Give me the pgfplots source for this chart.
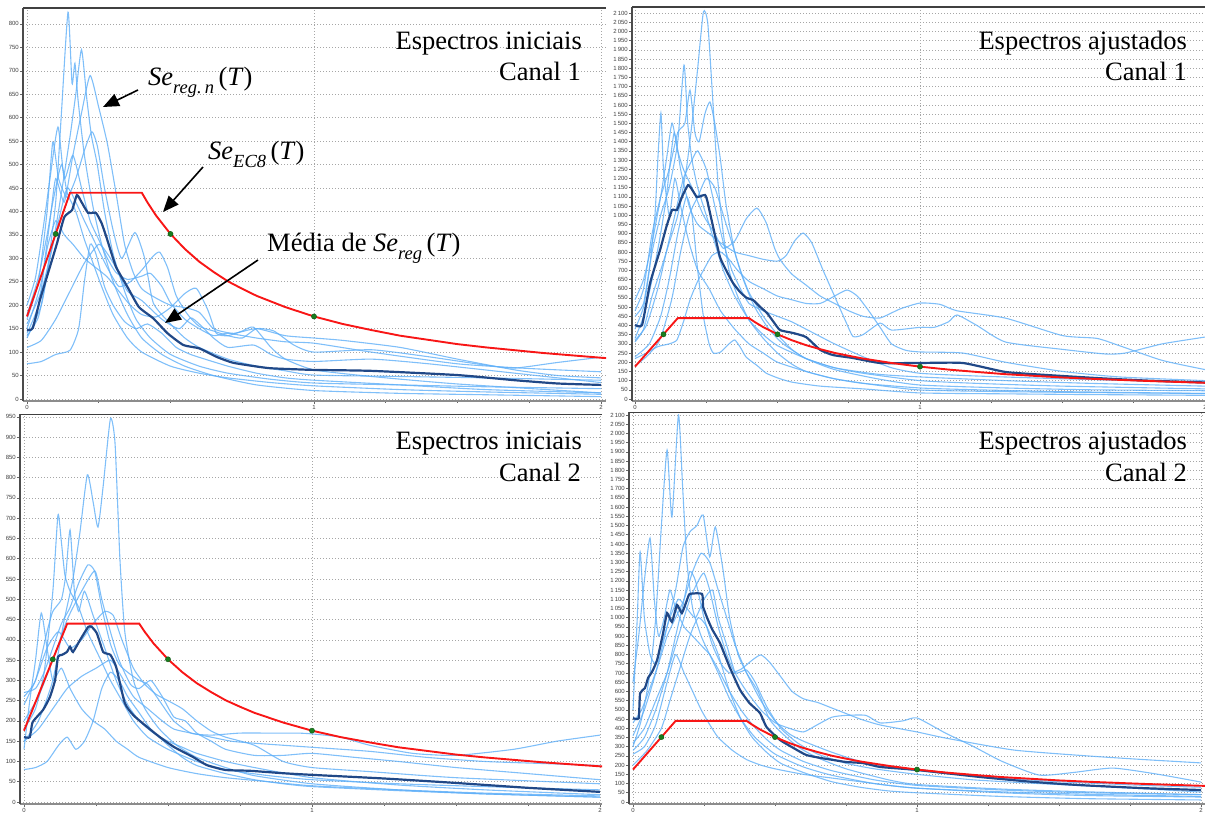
\documentclass[border=0pt]{standalone}
\usepackage{pgfplots}
\pgfplotsset{compat=1.18}
\usepackage{fontspec}
\setmainfont{Liberation Serif}
\newfontfamily\tickfont{Liberation Sans}
\usetikzlibrary{arrows.meta}

\definecolor{lbc}{RGB}{95,175,248}
\definecolor{meanc}{RGB}{32,72,135}
\definecolor{ecred}{RGB}{248,22,22}
\definecolor{dotg}{RGB}{25,125,30}

\pgfplotsset{
    panel/.style={
        scale only axis,
        axis x line*=bottom,
        axis y line*=left,
        x axis line style={black!45, line width=2.4pt},
        y axis line style={black!70, line width=1.8pt},
        xtick={0,1,2},
        minor x tick num=3,
        ytick distance=50,
        scaled y ticks=false,
        ymajorgrids, xmajorgrids,
        grid style={black!35, dash pattern=on 1pt off 2pt, line width=0.6pt},
        tick style={black!60, line width=0.6pt},
        major tick length=3pt, minor tick length=2pt,
        tick align=outside,
        tick label style={font=\tickfont\fontsize{6}{6}\selectfont, text=black!75},
        yticklabel style={inner sep=1pt},
        xticklabel style={inner sep=1.5pt},
        /pgf/number format/1000 sep={\,},
        /pgf/number format/assume math mode=true,
    },
    lb/.style={color=lbc, line width=1.1pt, opacity=0.8, smooth, tension=0.35},
    meanline/.style={color=meanc, line width=2.2pt, smooth, tension=0.3},
    ec8/.style={color=ecred, line width=1.9pt},
    gdots/.style={only marks, mark=*, mark size=2.6pt, mark options={fill=dotg, draw=dotg!70!black}},
}

\newcommand{\ECeight}{%
  \addplot[ec8] coordinates {(0,176)(0.15,440)(0.4,440)(0.42,419)(0.45,391)(0.5,352)(0.55,320)(0.6,293)(0.65,271)(0.7,251)(0.75,235)(0.8,220)(0.9,196)(1.0,176)(1.1,160)(1.2,147)(1.3,135)(1.4,126)(1.5,117)(1.6,110)(1.7,104)(1.8,98)(1.9,93)(2.0,88)(2.05,86)};
  \addplot[gdots] coordinates {(0.1,352)(0.5,352)(1.0,176)};
}

\begin{document}
\begin{tikzpicture}[x=1pt,y=1pt]
\useasboundingbox (0,0) rectangle (1205,812);

% ---------------- top left: initial spectra, channel 1
\begin{axis}[panel, at={(23pt,411pt)}, anchor=south west, width=583pt, height=393pt,
    xmin=-0.0139, xmax=2.0174, ymin=-4.3, ymax=834]
\addplot[lb] coordinates {(0,135)(0.04,175)(0.07,270)(0.1,420)(0.12,610)(0.143,825)(0.157,673)(0.167,716)(0.178,637)(0.2,520)(0.23,410)(0.26,330)(0.3,250)(0.35,180)(0.4,130)(0.47,95)(0.55,70)(0.65,50)(0.8,30)(1.0,18)(1.3,12)(1.6,9)(2.0,5)};
\addplot[lb] coordinates {(0,160)(0.05,230)(0.09,330)(0.12,440)(0.15,560)(0.17,650)(0.19,745)(0.209,637)(0.225,560)(0.245,500)(0.27,400)(0.3,310)(0.34,230)(0.38,170)(0.43,130)(0.5,95)(0.6,70)(0.7,55)(0.85,42)(1.0,34)(1.3,30)(1.6,26)(2.0,22)};
\addplot[lb] coordinates {(0,150)(0.05,250)(0.08,380)(0.1,470)(0.13,420)(0.16,520)(0.19,610)(0.22,690)(0.25,622)(0.28,545)(0.31,440)(0.34,330)(0.37,270)(0.4,235)(0.45,215)(0.5,200)(0.55,195)(0.6,185)(0.65,150)(0.72,140)(0.8,150)(0.9,135)(1.0,130)(1.1,125)(1.3,110)(1.5,85)(1.7,62)(1.85,50)(2.0,45)};
\addplot[lb] coordinates {(0,170)(0.04,250)(0.07,400)(0.09,548)(0.11,470)(0.14,430)(0.17,470)(0.2,530)(0.226,570)(0.245,540)(0.27,450)(0.3,360)(0.33,300)(0.376,355)(0.41,300)(0.44,205)(0.5,160)(0.55,130)(0.6,110)(0.7,85)(0.8,70)(0.9,60)(1.0,51)(1.3,48)(1.6,45)(2.0,40)};
\addplot[lb] coordinates {(0,200)(0.03,260)(0.06,380)(0.08,470)(0.108,580)(0.13,470)(0.16,520)(0.19,450)(0.22,380)(0.25,340)(0.28,300)(0.31,270)(0.35,255)(0.4,262)(0.43,268)(0.47,240)(0.5,205)(0.55,170)(0.6,150)(0.65,135)(0.7,140)(0.8,130)(0.9,122)(1.0,119)(1.2,100)(1.5,75)(1.75,65)(2.0,58)};
\addplot[lb] coordinates {(0,130)(0.05,200)(0.08,300)(0.11,380)(0.14,450)(0.17,420)(0.2,380)(0.24,330)(0.28,280)(0.32,240)(0.36,250)(0.4,275)(0.44,305)(0.463,313)(0.49,280)(0.52,220)(0.56,180)(0.6,155)(0.65,145)(0.7,135)(0.75,130)(0.8,150)(0.86,145)(0.93,115)(1.0,100)(1.2,105)(1.4,90)(1.6,72)(1.7,66)(1.85,78)(2.0,89)};
\addplot[lb] coordinates {(0,75)(0.05,80)(0.1,95)(0.15,104)(0.18,150)(0.2,250)(0.22,330)(0.24,310)(0.27,240)(0.3,200)(0.34,165)(0.38,150)(0.42,160)(0.47,140)(0.52,110)(0.57,95)(0.62,85)(0.7,70)(0.8,55)(0.9,45)(1.0,40)(1.3,30)(1.6,20)(2.0,13)};
\addplot[lb] coordinates {(0,110)(0.05,125)(0.1,170)(0.15,230)(0.2,290)(0.25,330)(0.28,310)(0.31,280)(0.35,230)(0.4,210)(0.47,170)(0.53,150)(0.57,173)(0.6,160)(0.65,130)(0.7,110)(0.79,115)(0.85,95)(0.9,85)(1.0,80)(1.2,85)(1.4,75)(1.7,55)(2.0,35)};
\addplot[lb] coordinates {(0,140)(0.04,200)(0.07,320)(0.1,380)(0.13,350)(0.16,330)(0.2,300)(0.24,280)(0.28,260)(0.32,230)(0.36,200)(0.4,180)(0.45,175)(0.5,195)(0.55,225)(0.59,236)(0.63,190)(0.66,140)(0.7,135)(0.75,145)(0.79,153)(0.85,110)(0.9,85)(1.0,62)(1.2,48)(1.5,32)(2.0,13)};
\addplot[lb] coordinates {(0,180)(0.04,260)(0.07,350)(0.09,420)(0.12,500)(0.14,440)(0.17,400)(0.2,340)(0.23,290)(0.26,240)(0.3,180)(0.35,130)(0.4,100)(0.5,70)(0.6,55)(0.7,45)(0.85,35)(1.0,28)(1.3,20)(1.6,15)(2.0,10)};
\addplot[meanline] coordinates {(0,147)(0.02,151)(0.045,211)(0.08,282)(0.105,333)(0.13,388)(0.157,403)(0.174,435)(0.19,420)(0.213,397)(0.24,397)(0.26,375)(0.28,339)(0.31,282)(0.35,239)(0.39,196)(0.44,172)(0.49,140)(0.545,115)(0.6,108)(0.66,90)(0.72,77)(0.84,66)(0.95,63)(1.0,62)(1.2,60)(1.5,51)(1.7,40)(1.85,33)(2.0,30)};
\ECeight
\draw[black!75, line width=1.2pt] (rel axis cs:0,1) -- (rel axis cs:1,1);
\end{axis}

% ---------------- top right: adjusted spectra, channel 1
\begin{axis}[panel, at={(632pt,411pt)}, anchor=south west, width=573pt, height=394pt,
    xmin=-0.0105, xmax=2.0, ymin=-10.9, ymax=2133]
\addplot[lb] coordinates {(0,310)(0.03,380)(0.06,560)(0.09,700)(0.12,850)(0.15,1000)(0.18,1250)(0.2,1500)(0.22,1800)(0.24,2106)(0.255,2050)(0.27,1700)(0.29,1200)(0.31,900)(0.33,700)(0.36,560)(0.4,430)(0.45,330)(0.5,250)(0.55,190)(0.6,150)(0.7,110)(0.8,85)(1.0,60)(1.2,50)(1.5,40)(2.0,30)};
\addplot[lb] coordinates {(0,450)(0.03,520)(0.06,800)(0.09,1000)(0.12,1150)(0.15,1400)(0.172,1817)(0.185,1500)(0.2,1300)(0.22,1150)(0.25,1000)(0.28,850)(0.31,700)(0.35,560)(0.4,430)(0.45,350)(0.5,290)(0.6,220)(0.7,170)(0.85,135)(1.0,120)(1.3,100)(1.6,85)(2.0,70)};
\addplot[lb] coordinates {(0,480)(0.03,600)(0.06,900)(0.09,1100)(0.12,1250)(0.15,1450)(0.175,1500)(0.193,1681)(0.21,1450)(0.225,1400)(0.245,1550)(0.263,1616)(0.28,1500)(0.3,1300)(0.32,1050)(0.35,800)(0.38,650)(0.42,500)(0.47,380)(0.52,300)(0.6,220)(0.7,160)(0.85,110)(1.0,76)(1.3,60)(1.6,50)(2.0,45)};
\addplot[lb] coordinates {(0,380)(0.03,500)(0.05,700)(0.07,1000)(0.08,1300)(0.091,1556)(0.1,1250)(0.12,1000)(0.14,1200)(0.16,1050)(0.19,850)(0.22,700)(0.26,600)(0.3,480)(0.35,380)(0.4,300)(0.45,250)(0.5,200)(0.6,150)(0.7,110)(0.85,75)(1.0,49)(1.3,40)(1.6,35)(2.0,30)};
\addplot[lb] coordinates {(0,540)(0.03,650)(0.06,850)(0.09,1100)(0.11,1300)(0.13,1501)(0.15,1350)(0.17,1250)(0.2,1150)(0.24,1000)(0.28,900)(0.31,820)(0.35,860)(0.39,980)(0.428,1039)(0.46,960)(0.49,820)(0.51,756)(0.55,680)(0.6,620)(0.65,560)(0.7,520)(0.75,480)(0.8,450)(0.86,441)(0.93,490)(1.0,522)(1.07,515)(1.13,480)(1.3,440)(1.5,345)(1.62,330)(1.7,290)(1.85,210)(2.0,160)};
\addplot[lb] coordinates {(0,330)(0.03,450)(0.06,650)(0.09,900)(0.11,1100)(0.137,1447)(0.16,1250)(0.19,1050)(0.22,950)(0.26,900)(0.3,850)(0.35,800)(0.4,780)(0.45,760)(0.5,750)(0.53,780)(0.56,860)(0.59,903)(0.62,850)(0.66,700)(0.7,560)(0.74,420)(0.765,340)(0.8,350)(0.86,413)(0.9,375)(1.0,390)(1.05,390)(1.1,420)(1.13,457)(1.2,400)(1.3,310)(1.5,270)(1.65,245)(1.72,250)(1.85,300)(2.0,337)};
\addplot[lb] coordinates {(0,220)(0.04,250)(0.08,285)(0.12,300)(0.147,321)(0.17,420)(0.193,539)(0.217,631)(0.24,700)(0.27,780)(0.3,800)(0.33,760)(0.36,700)(0.4,640)(0.45,600)(0.5,560)(0.55,540)(0.6,520)(0.65,520)(0.7,560)(0.744,593)(0.78,560)(0.82,480)(0.86,390)(0.9,300)(0.95,265)(1.0,256)(1.15,250)(1.3,200)(1.5,150)(1.7,120)(2.0,100)};
\addplot[lb] coordinates {(0,230)(0.05,300)(0.09,450)(0.12,650)(0.15,900)(0.18,1100)(0.2,1000)(0.22,700)(0.24,450)(0.26,300)(0.275,250)(0.3,255)(0.33,300)(0.35,321)(0.37,280)(0.39,228)(0.43,180)(0.46,141)(0.5,115)(0.55,92)(0.65,70)(0.8,55)(1.0,33)(1.3,28)(1.6,24)(2.0,20)};
\addplot[lb] coordinates {(0,320)(0.04,400)(0.08,600)(0.11,800)(0.14,1000)(0.17,1200)(0.2,1300)(0.22,1350)(0.25,1250)(0.28,1050)(0.31,850)(0.34,700)(0.37,600)(0.4,520)(0.45,480)(0.5,450)(0.55,420)(0.6,380)(0.65,340)(0.7,300)(0.8,230)(0.9,170)(1.0,140)(1.2,125)(1.5,110)(2.0,90)};
\addplot[lb] coordinates {(0,180)(0.04,230)(0.08,300)(0.1,380)(0.13,550)(0.16,800)(0.19,1000)(0.22,1100)(0.25,1200)(0.28,1150)(0.31,1000)(0.34,850)(0.37,700)(0.4,580)(0.45,450)(0.5,350)(0.55,270)(0.6,220)(0.7,170)(0.8,140)(1.0,100)(1.2,85)(1.5,70)(2.0,55)};
\addplot[meanline] coordinates {(0,403)(0.025,403)(0.053,631)(0.088,811)(0.11,936)(0.13,1028)(0.147,1028)(0.165,1100)(0.186,1164)(0.2,1140)(0.217,1099)(0.232,1105)(0.246,1110)(0.253,1083)(0.275,930)(0.298,773)(0.32,700)(0.344,631)(0.37,580)(0.393,549)(0.414,539)(0.44,500)(0.463,468)(0.486,420)(0.509,375)(0.555,359)(0.6,337)(0.65,267)(0.695,239)(0.765,223)(0.86,196)(1.0,196)(1.15,196)(1.3,147)(1.45,130)(1.62,114)(1.8,100)(2.0,90)};
\ECeight
\draw[black!75, line width=1.2pt] (rel axis cs:0,1) -- (rel axis cs:1,1);
\end{axis}

% ---------------- bottom left: initial spectra, channel 2
\begin{axis}[panel, at={(20pt,8pt)}, anchor=south west, width=582pt, height=390pt,
    xmin=-0.0139, xmax=2.007, ymin=-4.9, ymax=957]
\addplot[lb] coordinates {(0,150)(0.05,200)(0.1,300)(0.14,450)(0.17,550)(0.194,664)(0.22,807)(0.24,740)(0.257,678)(0.275,780)(0.3,945)(0.316,886)(0.333,600)(0.35,420)(0.38,300)(0.42,230)(0.47,180)(0.53,140)(0.6,110)(0.7,85)(0.8,65)(1.0,45)(1.3,30)(1.6,20)(2.0,12)};
\addplot[lb] coordinates {(0,180)(0.04,230)(0.07,320)(0.1,518)(0.118,708)(0.13,640)(0.142,560)(0.16,520)(0.19,480)(0.22,420)(0.26,360)(0.3,300)(0.34,250)(0.38,200)(0.43,160)(0.5,130)(0.6,100)(0.7,80)(0.85,65)(1.0,55)(1.3,45)(1.6,38)(2.0,30)};
\addplot[lb] coordinates {(0,260)(0.04,300)(0.08,420)(0.1,470)(0.13,500)(0.145,560)(0.16,671)(0.175,520)(0.19,470)(0.21,520)(0.24,460)(0.28,380)(0.32,300)(0.36,240)(0.4,200)(0.45,170)(0.5,150)(0.55,135)(0.6,120)(0.7,100)(0.8,85)(1.0,60)(1.3,42)(1.6,30)(2.0,18)};
\addplot[lb] coordinates {(0,270)(0.04,280)(0.07,320)(0.1,380)(0.13,440)(0.16,480)(0.19,540)(0.222,585)(0.246,568)(0.27,480)(0.3,390)(0.33,340)(0.36,320)(0.4,300)(0.43,290)(0.47,250)(0.52,200)(0.58,170)(0.65,165)(0.75,170)(0.85,170)(0.95,170)(1.0,168)(1.1,160)(1.2,140)(1.35,120)(1.5,115)(1.7,130)(1.85,150)(2.0,165)};
\addplot[lb] coordinates {(0,200)(0.05,260)(0.1,350)(0.15,450)(0.2,520)(0.246,570)(0.27,500)(0.3,420)(0.33,350)(0.37,290)(0.4,280)(0.44,300)(0.48,260)(0.52,210)(0.56,200)(0.6,170)(0.65,150)(0.7,130)(0.8,115)(0.9,115)(1.0,120)(1.15,110)(1.3,100)(1.5,85)(1.75,70)(2.0,55)};
\addplot[lb] coordinates {(0,80)(0.04,85)(0.08,100)(0.12,140)(0.15,160)(0.18,130)(0.21,150)(0.24,200)(0.27,280)(0.3,320)(0.33,300)(0.36,260)(0.4,220)(0.44,180)(0.5,140)(0.55,110)(0.6,90)(0.7,70)(0.8,55)(0.9,45)(1.0,38)(1.3,28)(1.6,20)(2.0,12)};
\addplot[lb] coordinates {(0,130)(0.02,250)(0.04,350)(0.06,466)(0.08,380)(0.1,300)(0.13,330)(0.16,280)(0.2,230)(0.24,200)(0.28,180)(0.32,150)(0.36,130)(0.4,110)(0.5,85)(0.6,70)(0.7,60)(0.85,50)(1.0,40)(1.3,30)(1.6,22)(2.0,15)};
\addplot[lb] coordinates {(0,150)(0.05,180)(0.1,230)(0.15,280)(0.2,310)(0.25,330)(0.3,350)(0.33,320)(0.38,260)(0.43,230)(0.48,200)(0.52,180)(0.58,170)(0.65,160)(0.72,150)(0.8,145)(0.9,140)(1.0,135)(1.2,125)(1.4,110)(1.6,100)(1.8,95)(2.0,90)};
\addplot[lb] coordinates {(0,240)(0.04,300)(0.08,380)(0.12,420)(0.16,380)(0.2,400)(0.24,440)(0.28,470)(0.31,460)(0.34,400)(0.38,330)(0.42,290)(0.46,265)(0.5,250)(0.55,230)(0.6,200)(0.65,175)(0.7,160)(0.8,140)(0.9,100)(1.0,85)(1.2,75)(1.5,60)(2.0,45)};
\addplot[meanline] coordinates {(0,160)(0.02,160)(0.03,197)(0.066,227)(0.09,259)(0.108,301)(0.118,358)(0.132,363)(0.149,370)(0.16,383)(0.17,370)(0.195,400)(0.223,432)(0.235,432)(0.253,416)(0.275,370)(0.3,363)(0.32,333)(0.35,244)(0.38,214)(0.426,186)(0.47,161)(0.52,136)(0.587,111)(0.635,91)(0.7,79)(0.785,77)(0.9,71)(1.0,67)(1.25,58)(1.5,47)(1.75,35)(2.0,25)};
\ECeight
\draw[black!75, line width=1.2pt] (rel axis cs:0,1) -- (rel axis cs:1,1);
\end{axis}

% ---------------- bottom right: adjusted spectra, channel 2
\begin{axis}[panel, at={(629pt,8pt)}, anchor=south west, width=576pt, height=392pt,
    xmin=-0.0141, xmax=2.014, ymin=-10.9, ymax=2116]
\addplot[lb] coordinates {(0,300)(0.03,450)(0.06,700)(0.08,1000)(0.1,1500)(0.12,1910)(0.137,1546)(0.16,2100)(0.175,1700)(0.19,1300)(0.21,1050)(0.24,900)(0.27,800)(0.3,700)(0.34,560)(0.38,450)(0.43,350)(0.5,260)(0.6,190)(0.7,145)(0.85,100)(1.0,75)(1.3,55)(1.6,42)(2.0,30)};
\addplot[lb] coordinates {(0,360)(0.04,500)(0.08,700)(0.12,950)(0.15,1150)(0.176,1384)(0.2,1465)(0.225,1500)(0.247,1557)(0.27,1330)(0.29,1492)(0.317,1259)(0.34,1000)(0.37,800)(0.4,700)(0.44,600)(0.48,450)(0.52,380)(0.58,300)(0.65,240)(0.75,180)(0.9,120)(1.0,95)(1.3,70)(1.6,55)(2.0,40)};
\addplot[lb] coordinates {(0,650)(0.02,900)(0.04,1200)(0.06,1432)(0.075,1100)(0.09,900)(0.11,1000)(0.13,1150)(0.15,1050)(0.18,950)(0.21,900)(0.24,850)(0.27,800)(0.3,720)(0.34,600)(0.38,500)(0.42,420)(0.47,340)(0.52,280)(0.6,220)(0.7,170)(0.85,120)(1.0,90)(1.3,65)(1.6,50)(2.0,40)};
\addplot[lb] coordinates {(0,500)(0.015,1000)(0.025,1357)(0.04,1000)(0.06,800)(0.08,750)(0.1,850)(0.13,1000)(0.16,1100)(0.19,1050)(0.22,1000)(0.25,1100)(0.28,1150)(0.3,1000)(0.33,850)(0.36,700)(0.4,600)(0.45,500)(0.5,430)(0.55,400)(0.6,380)(0.65,420)(0.7,460)(0.75,470)(0.82,470)(0.87,429)(0.95,440)(1.0,456)(1.1,374)(1.2,300)(1.3,220)(1.43,146)(1.55,160)(1.69,184)(1.85,150)(2.0,108)};
\addplot[lb] coordinates {(0,280)(0.04,350)(0.08,500)(0.12,700)(0.15,900)(0.18,1100)(0.2,1250)(0.22,1200)(0.25,1000)(0.28,850)(0.31,750)(0.34,700)(0.38,720)(0.42,770)(0.45,798)(0.48,760)(0.52,680)(0.56,600)(0.6,560)(0.65,540)(0.7,510)(0.75,480)(0.8,450)(0.87,418)(1.0,380)(1.1,347)(1.34,282)(1.6,250)(1.8,230)(2.0,212)};
\addplot[lb] coordinates {(0,320)(0.04,400)(0.08,550)(0.12,700)(0.16,900)(0.2,1100)(0.23,1200)(0.25,1242)(0.27,1150)(0.3,950)(0.33,800)(0.36,700)(0.4,716)(0.43,650)(0.47,520)(0.52,400)(0.58,320)(0.65,260)(0.75,210)(0.85,180)(1.0,150)(1.2,120)(1.43,100)(1.7,80)(2.0,54)};
\addplot[lb] coordinates {(0,260)(0.04,300)(0.08,420)(0.12,650)(0.15,800)(0.18,700)(0.21,600)(0.24,500)(0.27,420)(0.3,350)(0.35,280)(0.4,230)(0.45,200)(0.5,180)(0.6,150)(0.7,130)(0.8,110)(0.9,90)(1.0,75)(1.3,50)(1.6,35)(2.0,27)};
\addplot[lb] coordinates {(0,430)(0.03,500)(0.06,620)(0.09,750)(0.12,900)(0.15,1000)(0.18,1100)(0.21,1250)(0.24,1350)(0.27,1300)(0.3,1150)(0.33,1000)(0.36,850)(0.4,700)(0.45,550)(0.5,440)(0.55,370)(0.6,330)(0.7,270)(0.8,220)(0.9,190)(1.0,170)(1.2,140)(1.5,110)(1.8,90)(2.0,80)};
\addplot[lb] coordinates {(0,200)(0.05,280)(0.1,400)(0.13,550)(0.16,700)(0.2,900)(0.23,1000)(0.26,950)(0.3,800)(0.34,600)(0.38,450)(0.42,350)(0.47,270)(0.52,210)(0.6,160)(0.7,110)(0.8,80)(0.9,60)(1.0,50)(1.3,30)(1.6,18)(2.0,11)};
\addplot[meanline] coordinates {(0,455)(0.02,455)(0.025,590)(0.042,618)(0.053,673)(0.067,706)(0.085,771)(0.106,917)(0.12,1025)(0.137,977)(0.155,1069)(0.172,1025)(0.19,1096)(0.2,1129)(0.243,1129)(0.247,1058)(0.264,988)(0.28,933)(0.306,863)(0.34,733)(0.377,608)(0.41,537)(0.447,483)(0.47,407)(0.518,336)(0.565,293)(0.61,255)(0.66,239)(0.705,228)(0.75,217)(0.81,211)(0.87,190)(1.0,174)(1.22,136)(1.4,110)(1.57,92)(1.8,75)(2.0,65)};
\ECeight
\draw[black!75, line width=1.2pt] (rel axis cs:0,1) -- (rel axis cs:1,1);
\end{axis}

% ---------------- panel titles
\tikzset{ptitle/.style={font=\fontsize{26.5}{30}\selectfont, anchor=base east, inner sep=0pt}}
\node[ptitle] at (582,762) {Espectros iniciais};
\node[ptitle] at (581,731) {Canal 1};
\node[ptitle] at (1187,762) {Espectros ajustados};
\node[ptitle] at (1187,731) {Canal 1};
\node[ptitle] at (582,362) {Espectros iniciais};
\node[ptitle] at (581,330) {Canal 2};
\node[ptitle] at (1187,362) {Espectros ajustados};
\node[ptitle] at (1187,330) {Canal 2};

% ---------------- annotations
\tikzset{annot/.style={font=\fontsize{26.5}{30}\selectfont, anchor=base west, inner sep=0pt},
         aarrow/.style={line width=1.6pt, -{Triangle[length=16pt,width=13pt]}}}
\newcommand{\subs}[1]{\raisebox{-0.28em}{\fontsize{18.5}{20}\selectfont\itshape #1}}
\node[annot] at (148,726) {\textit{Se}\subs{reg.\,n}\,(\textit{T})};
\node[annot] at (208,652) {\textit{Se}\subs{EC8}\,(\textit{T})};
\node[annot] at (267,560) {Média de \textit{Se}\subs{reg}\,(\textit{T})};
\draw[aarrow] (138,722) -- (103,705);
\draw[aarrow] (203,645) -- (163,600);
\draw[aarrow] (258,552) -- (165,489);
\end{tikzpicture}
\end{document}
